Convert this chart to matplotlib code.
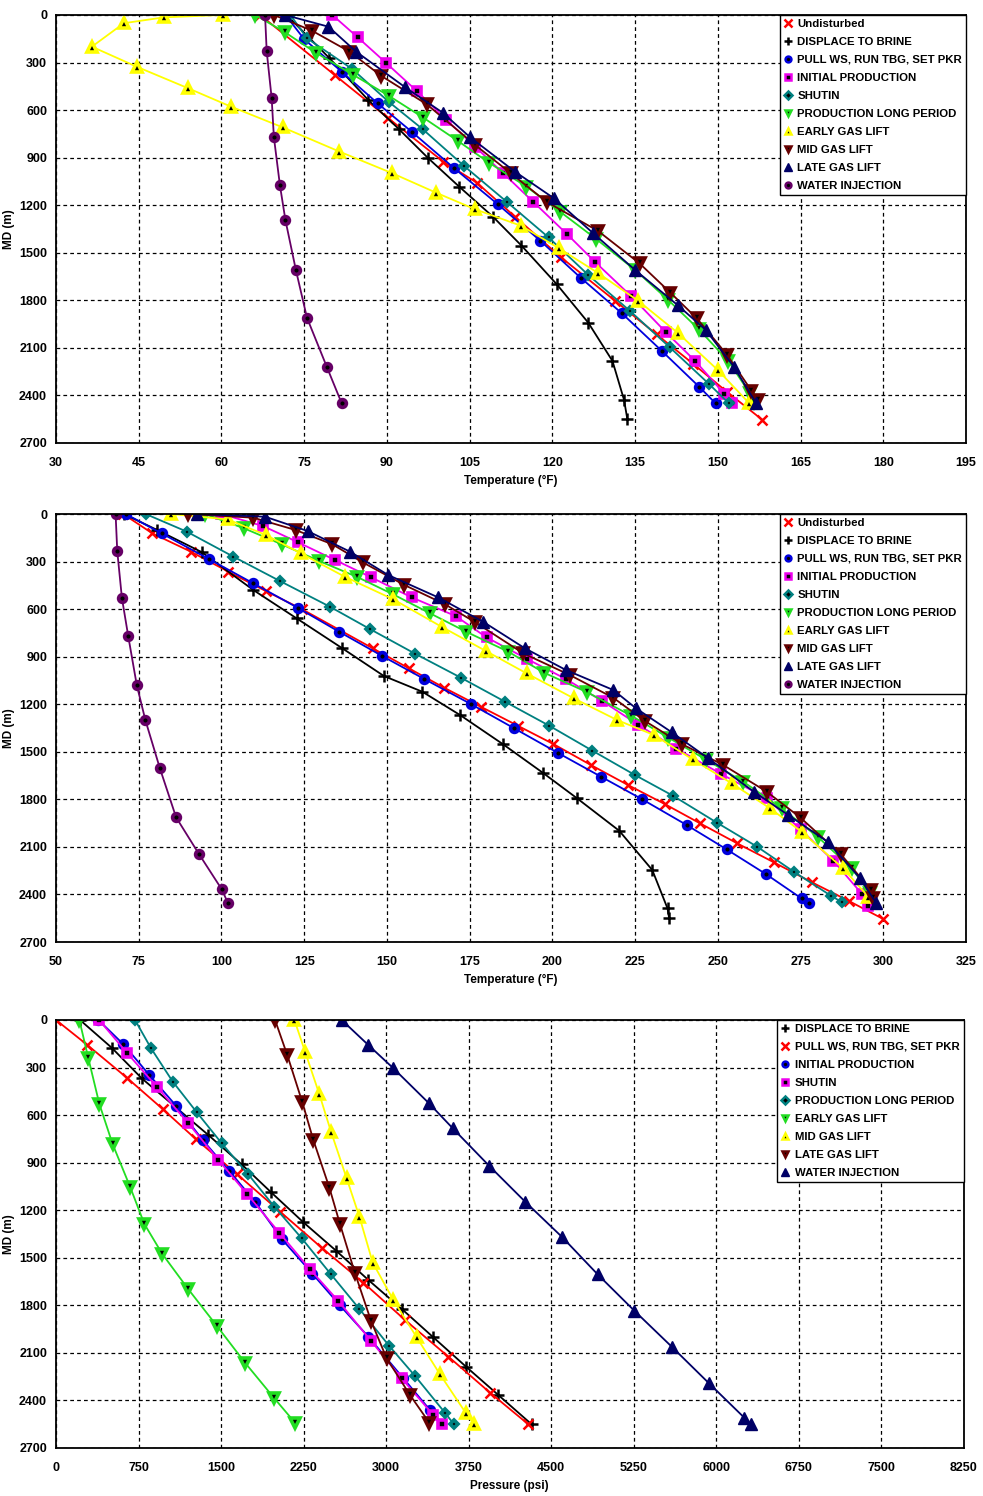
import matplotlib
matplotlib.use("Agg")
import matplotlib.pyplot as plt

plt.rcParams['font.family'] = ['Liberation Sans', 'DejaVu Sans']
plt.rcParams['font.weight'] = 'bold'

# ---------------- panel 1 : temperature (first set) ----------------
t1_names = ["Undisturbed", "DISPLACE TO BRINE", "PULL WS, RUN TBG, SET PKR",
            "INITIAL PRODUCTION", "SHUTIN", "PRODUCTION LONG PERIOD",
            "EARLY GAS LIFT", "MID GAS LIFT", "LATE GAS LIFT", "WATER INJECTION"]

t1_undist_md = [0, 378, 650, 925, 1058, 1272, 1530, 1804, 2015, 2200, 2376, 2555]
t1_undist_t = [67.0, 80.5, 90.2, 100.2, 106.3, 113.2, 121.6, 131.4, 138.9, 145.5, 151.6, 158.1]

t1_brine_md = [0, 270, 536, 721, 904, 1083, 1272, 1455, 1699, 1941, 2183, 2429, 2551]
t1_brine_t = [71.8, 79.5, 86.6, 92.2, 97.5, 103.1, 109.2, 114.4, 120.8, 126.5, 130.9, 133.0, 133.6]

t1_pull_md = [0, 153, 358, 557, 740, 967, 1194, 1424, 1657, 1882, 2118, 2345, 2450]
t1_pull_t = [71.6, 75.0, 81.8, 88.3, 94.6, 102.2, 110.1, 117.8, 125.1, 132.6, 139.8, 146.6, 149.6]

t1_init_md = [0, 141, 301, 479, 662, 831, 999, 1178, 1384, 1560, 1771, 2002, 2183, 2391, 2450]
t1_init_t = [80.1, 84.7, 89.8, 95.4, 100.8, 106.0, 111.1, 116.5, 122.7, 127.8, 134.2, 140.6, 145.9, 151.2, 152.6]

t1_shut_md = [0, 147, 341, 547, 721, 953, 1178, 1403, 1640, 1868, 2097, 2328, 2450]
t1_shut_t = [72.5, 75.5, 83.7, 90.3, 96.5, 104.0, 111.7, 119.3, 126.5, 134.1, 141.3, 148.4, 152.0]

t1_prod_md = [0, 109, 238, 378, 511, 648, 793, 932, 1083, 1241, 1415, 1609, 1798, 1981, 2183, 2387, 2440]
t1_prod_t = [66.1, 71.5, 77.1, 83.9, 90.4, 96.6, 102.8, 108.5, 115.3, 121.4, 128.0, 135.0, 141.0, 146.5, 151.9, 155.8, 156.5]

t1_early_md = [0, 15, 52, 200, 326, 463, 578, 709, 862, 999, 1121, 1226, 1331, 1472, 1626, 1804, 2004, 2240, 2450]
t1_early_t = [60.2, 49.6, 42.3, 36.5, 44.6, 54.0, 61.7, 71.1, 81.4, 91.0, 98.9, 106.0, 114.4, 121.2, 128.2, 135.6, 142.7, 150.0, 155.7]

t1_mid_md = [0, 99, 231, 385, 563, 820, 1000, 1180, 1363, 1567, 1752, 1914, 2145, 2370, 2429]
t1_mid_t = [69.5, 76.4, 83.2, 89.0, 97.2, 106.0, 112.5, 119.0, 128.3, 135.8, 141.4, 146.2, 151.7, 156.1, 157.3]

t1_late_md = [0, 74, 231, 456, 616, 772, 988, 1157, 1377, 1609, 1830, 1987, 2219, 2446]
t1_late_t = [71.5, 79.4, 84.4, 93.3, 100.1, 105.1, 113.2, 120.3, 127.4, 135.0, 142.7, 147.8, 152.9, 156.9]

t1_water_md = [0, 230, 525, 770, 1075, 1295, 1610, 1910, 2220, 2450]
t1_water_t = [67.9, 68.2, 69.1, 69.5, 70.6, 71.6, 73.5, 75.5, 79.1, 81.8]

# ---------------- panel 2 : temperature (second set) ----------------
t2_undist_md = [0, 122, 238, 364, 486, 599, 847, 974, 1096, 1216, 1335, 1451, 1584, 1710, 1830, 1951, 2078, 2198, 2324, 2442, 2555]
t2_undist_t = [70.3, 79.1, 90.8, 102.1, 113.4, 124.2, 145.7, 156.7, 167.3, 178.4, 189.5, 200.3, 211.7, 222.9, 234.0, 244.6, 255.9, 267.0, 278.5, 289.7, 300.0]

t2_brine_md = [0, 100, 240, 479, 658, 844, 1022, 1121, 1268, 1451, 1632, 1794, 1998, 2246, 2488, 2551]
t2_brine_t = [70.5, 80.5, 94.0, 109.6, 122.7, 136.3, 149.1, 160.7, 172.1, 185.0, 197.1, 207.5, 220.2, 230.2, 234.8, 235.3]

t2_pull_md = [0, 122, 284, 437, 591, 742, 896, 1041, 1199, 1350, 1506, 1657, 1798, 1962, 2116, 2271, 2425, 2452]
t2_pull_t = [71.1, 81.9, 96.2, 109.6, 123.0, 135.5, 148.6, 161.3, 175.4, 188.3, 201.6, 214.7, 227.0, 240.6, 252.7, 264.5, 275.3, 277.6]

t2_init_md = [0, 76, 179, 290, 399, 526, 644, 778, 915, 1041, 1180, 1330, 1480, 1640, 1794, 1990, 2187, 2400, 2473]
t2_init_t = [100.0, 112.6, 123.2, 134.3, 145.2, 157.5, 170.8, 180.1, 192.4, 204.1, 215.1, 226.0, 237.5, 251.0, 264.8, 275.0, 284.9, 293.7, 295.5]

t2_shut_md = [0, 111, 269, 423, 585, 726, 881, 1033, 1184, 1336, 1493, 1647, 1779, 1948, 2099, 2257, 2408, 2450]
t2_shut_t = [77.1, 89.5, 103.6, 117.7, 132.8, 144.9, 158.5, 172.4, 185.7, 199.1, 212.1, 225.0, 236.6, 249.8, 261.9, 273.0, 284.2, 287.6]

t2_prod_md = [0, 90, 191, 297, 396, 507, 626, 742, 869, 1001, 1125, 1273, 1410, 1550, 1689, 1857, 2040, 2236, 2393]
t2_prod_t = [95.0, 106.8, 118.2, 129.6, 140.9, 151.9, 163.0, 173.9, 186.7, 197.5, 210.6, 223.9, 235.0, 246.5, 257.7, 269.3, 280.4, 290.5, 296.0]

t2_early_md = [0, 34, 132, 248, 396, 538, 711, 864, 1005, 1163, 1300, 1394, 1548, 1699, 1857, 2004, 2236, 2415]
t2_early_t = [84.8, 101.9, 113.4, 124.0, 137.3, 151.9, 166.5, 179.9, 192.2, 206.5, 219.6, 230.7, 242.4, 254.2, 265.8, 275.3, 287.9, 295.5]

t2_mid_md = [0, 23, 101, 191, 305, 448, 570, 683, 879, 1016, 1159, 1306, 1453, 1584, 1752, 1916, 2147, 2372, 2420]
t2_mid_t = [90.0, 109.6, 122.4, 133.5, 142.7, 155.3, 167.6, 176.7, 191.2, 205.3, 218.4, 228.0, 239.3, 251.7, 264.8, 275.0, 287.2, 296.3, 297.0]

t2_late_md = [0, 17, 107, 238, 385, 526, 680, 847, 984, 1110, 1226, 1377, 1538, 1752, 1899, 2068, 2298, 2452]
t2_late_t = [92.7, 113.2, 126.0, 138.9, 150.4, 165.5, 179.1, 191.7, 204.1, 218.4, 225.3, 236.1, 246.9, 260.9, 271.3, 283.2, 293.0, 297.8]

t2_water_md = [0, 233, 528, 768, 1079, 1300, 1605, 1914, 2145, 2368, 2452]
t2_water_t = [68.0, 68.5, 69.9, 71.8, 74.4, 77.0, 81.4, 86.3, 93.2, 100.1, 101.9]

# ---------------- panel 3 : pressure ----------------
p_names = ["DISPLACE TO BRINE", "PULL WS, RUN TBG, SET PKR", "INITIAL PRODUCTION",
           "SHUTIN", "PRODUCTION LONG PERIOD", "EARLY GAS LIFT", "MID GAS LIFT",
           "LATE GAS LIFT", "WATER INJECTION"]

p_brine_md = [0, 175, 368, 726, 911, 1087, 1276, 1455, 1640, 1823, 2002, 2187, 2366, 2551]
p_brine_p = [218, 506, 779, 1385, 1688, 1955, 2248, 2545, 2839, 3143, 3430, 3727, 4021, 4324]

p_pull_md = [0, 158, 364, 562, 753, 974, 1209, 1437, 1657, 1893, 2124, 2351, 2551]
p_pull_p = [0, 285, 643, 970, 1273, 1648, 2036, 2415, 2794, 3173, 3567, 3945, 4294]

p_init_md = [0, 153, 347, 541, 757, 951, 1146, 1380, 1600, 1800, 1998, 2261, 2461]
p_init_p = [385, 612, 848, 1091, 1333, 1573, 1809, 2050, 2330, 2580, 2839, 3158, 3400]

p_shut_md = [0, 210, 425, 652, 883, 1100, 1342, 1573, 1773, 2025, 2261, 2492, 2551]
p_shut_p = [391, 648, 921, 1203, 1476, 1739, 2030, 2309, 2567, 2864, 3142, 3430, 3506]

p_prod_md = [0, 179, 389, 582, 778, 974, 1178, 1377, 1605, 1823, 2057, 2246, 2478, 2551]
p_prod_p = [718, 864, 1061, 1279, 1506, 1748, 1985, 2233, 2500, 2758, 3030, 3264, 3536, 3618]

p_early_md = [0, 242, 530, 784, 1052, 1287, 1476, 1699, 1929, 2162, 2387, 2541]
p_early_p = [212, 294, 394, 515, 673, 803, 966, 1203, 1461, 1718, 1985, 2173]

p_mid_md = [0, 200, 469, 705, 999, 1241, 1531, 1767, 2002, 2236, 2478, 2551]
p_mid_p = [2167, 2264, 2394, 2500, 2642, 2758, 2879, 3067, 3279, 3491, 3724, 3800]

p_late_md = [0, 223, 519, 757, 1058, 1289, 1598, 1899, 2135, 2366, 2541]
p_late_p = [1991, 2103, 2239, 2339, 2485, 2582, 2718, 2864, 3006, 3218, 3394]

p_water_md = [0, 158, 305, 526, 683, 919, 1146, 1371, 1605, 1834, 2061, 2292, 2509, 2551]
p_water_p = [2597, 2839, 3067, 3391, 3606, 3936, 4264, 4603, 4924, 5257, 5597, 5936, 6257, 6318]

# marker styles: (colour, marker, size)
sty_undist = ('#ff0000', 'x', 6.5)
sty_brine = ('#000000', '+', 8)
sty_pull = ('#0000dd', 'o', 5.6)
sty_init = ('#ee00ee', 's', 5.6)
sty_shut = ('#008080', 'D', 3.8)
sty_prod = ('#22dd22', 'v', 6.6)
sty_early = ('#ffff00', '^', 6.6)
sty_mid = ('#660000', 'v', 7.0)
sty_late = ('#000066', '^', 8)
sty_water = ('#660066', 'o', 5.6)


def draw(ax, md, val, sty, label):
    col, mk, ms = sty
    if mk in ('x', '+'):
        ax.plot(val, md, color=col, lw=1.3, marker=mk, ms=ms, mew=1.8, label=label)
    elif col == '#000066':
        ax.plot(val, md, color=col, lw=1.3, marker=mk, ms=ms, mfc=col, mec=col, label=label)
    else:
        # coloured marker with a small black centre
        ax.plot(val, md, color=col, lw=1.3, marker=mk, ms=ms, mfc='black', mec=col, mew=2.6, label=label)


def setup(ax, xmin, xmax, xstep, xlabel):
    ax.set_xlim(xmin, xmax)
    ax.set_ylim(2700, 0)
    ax.set_xticks(list(range(xmin, xmax + 1, xstep)))
    ax.set_yticks(list(range(0, 2701, 300)))
    ax.grid(True, color='black', linestyle=(0, (3, 2.5)), linewidth=0.9)
    ax.set_axisbelow(True)
    for s in ax.spines.values():
        s.set_linewidth(1.3)
    ax.tick_params(length=0, labelsize=9, pad=6.5)
    ax.tick_params(axis='x', pad=10)
    for t in ax.get_xticklabels() + ax.get_yticklabels():
        t.set_fontweight('bold')
    ax.set_xlabel(xlabel, fontsize=8.5, fontweight='bold')
    ax.xaxis.set_label_coords(0.5, -0.075)
    ax.set_ylabel('MD (m)', fontsize=8.5, fontweight='bold')
    ax.yaxis.set_label_coords(-0.045, 0.5)


def add_legend(ax):
    leg = ax.legend(loc='upper right', borderaxespad=0, fancybox=False, framealpha=1,
                    edgecolor='black', fontsize=8.2, handlelength=0.7, handletextpad=0.5,
                    labelspacing=0.7, borderpad=0.35, numpoints=1)
    leg.get_frame().set_linewidth(1.0)
    for h in leg.legend_handles:
        h.set_linestyle('None')
        if h.get_marker() in ('x', '+'):
            h.set_markersize(6)
        elif h.get_markerfacecolor() == 'black':
            h.set_markersize(4.2)
            h.set_markeredgewidth(1.8)
        else:
            h.set_markersize(6)
    for t in leg.get_texts():
        t.set_fontweight('bold')


fig = plt.figure(figsize=(9.83, 14.96), dpi=100)

ax1 = fig.add_axes([0.057, 0.7039, 0.9257, 0.2861])
ax2 = fig.add_axes([0.057, 0.3703, 0.9257, 0.2861])
ax3 = fig.add_axes([0.057, 0.0321, 0.9232, 0.2861])

t1 = [(t1_undist_md, t1_undist_t, sty_undist), (t1_brine_md, t1_brine_t, sty_brine),
      (t1_pull_md, t1_pull_t, sty_pull), (t1_init_md, t1_init_t, sty_init),
      (t1_shut_md, t1_shut_t, sty_shut), (t1_prod_md, t1_prod_t, sty_prod),
      (t1_early_md, t1_early_t, sty_early), (t1_mid_md, t1_mid_t, sty_mid),
      (t1_late_md, t1_late_t, sty_late), (t1_water_md, t1_water_t, sty_water)]
for (md, v, s), n in zip(t1, t1_names):
    draw(ax1, md, v, s, n)
setup(ax1, 30, 195, 15, 'Temperature (°F)')
add_legend(ax1)

t2 = [(t2_undist_md, t2_undist_t, sty_undist), (t2_brine_md, t2_brine_t, sty_brine),
      (t2_pull_md, t2_pull_t, sty_pull), (t2_init_md, t2_init_t, sty_init),
      (t2_shut_md, t2_shut_t, sty_shut), (t2_prod_md, t2_prod_t, sty_prod),
      (t2_early_md, t2_early_t, sty_early), (t2_mid_md, t2_mid_t, sty_mid),
      (t2_late_md, t2_late_t, sty_late), (t2_water_md, t2_water_t, sty_water)]
for (md, v, s), n in zip(t2, t1_names):
    draw(ax2, md, v, s, n)
setup(ax2, 50, 325, 25, 'Temperature (°F)')
add_legend(ax2)

# pressure panel re-uses the styles shifted by one (no Undisturbed curve)
p = [(p_brine_md, p_brine_p, sty_brine), (p_pull_md, p_pull_p, sty_undist),
     (p_init_md, p_init_p, sty_pull), (p_shut_md, p_shut_p, sty_init),
     (p_prod_md, p_prod_p, sty_shut), (p_early_md, p_early_p, sty_prod),
     (p_mid_md, p_mid_p, sty_early), (p_late_md, p_late_p, sty_mid),
     (p_water_md, p_water_p, sty_late)]
for (md, v, s), n in zip(p, p_names):
    draw(ax3, md, v, s, n)
setup(ax3, 0, 8250, 750, 'Pressure (psi)')
add_legend(ax3)

fig.savefig('out.png', dpi=100)
